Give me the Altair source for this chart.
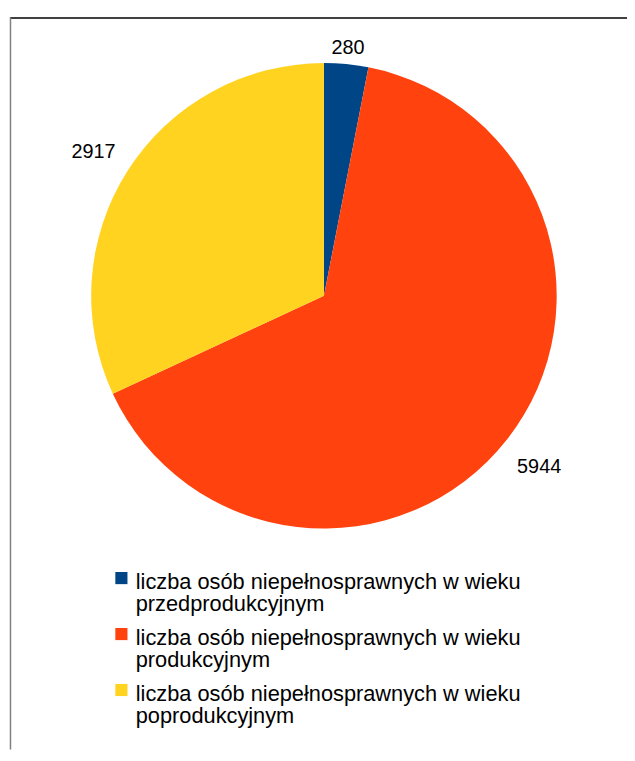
import altair as alt
import pandas as pd

prefix = "liczba osób niepełnosprawnych w wieku"
suffixes = ["przedprodukcyjnym", "produkcyjnym", "poprodukcyjnym"]
values = [280, 5944, 2917]
colors = ["#004586", "#ff420e", "#ffd320"]

cats = [f"{prefix} {s}" for s in suffixes]
df = pd.DataFrame({
    "cat": cats,
    "value": values,
    "order": list(range(len(cats))),
    "legend": [f"{prefix}\n{s}" for s in suffixes],
    "label": [str(v) for v in values],
})

CX, CY = 319, 287
FONT = "Liberation Sans"

color = alt.Color("cat:N", scale=alt.Scale(domain=cats, range=colors), legend=None)

# cumulative angles computed by Vega transforms
base = alt.Chart(df).transform_window(
    cum="sum(value)", sort=[alt.SortField("order")], frame=[None, 0]
).transform_joinaggregate(
    total="sum(value)"
).transform_calculate(
    a0="2*PI*(datum.cum - datum.value)/datum.total",
    a1="2*PI*datum.cum/datum.total",
    amid="2*PI*(datum.cum - datum.value/2)/datum.total",
    r="datum.value < 1000 ? 254 : 276",
)

pie = base.mark_arc(outerRadius=235).encode(
    theta=alt.Theta("a0:Q", scale=None),
    theta2="a1:Q",
    color=color,
    x=alt.value(CX),
    y=alt.value(CY),
)

labels = base.mark_text(font=FONT, fontSize=20, color="#000000", align="center",
                        baseline="middle", dy=3).encode(
    theta=alt.Theta("amid:Q", scale=None),
    radius=alt.Radius("r:Q", scale=None),
    text="label:N",
    x=alt.value(CX),
    y=alt.value(CY),
)

yleg = alt.Y("cat:N", sort=cats, axis=None,
             scale=alt.Scale(type="point", domain=cats, range=[583, 696], padding=0))

leg_sq = alt.Chart(df).mark_square(size=150, yOffset=-11, opacity=1).encode(
    x=alt.value(114.5), y=yleg, color=color
)
leg_txt = alt.Chart(df).mark_text(font=FONT, fontSize=22, color="#000000", align="left",
                                  baseline="alphabetic", lineBreak="\n", lineHeight=22.5).encode(
    x=alt.value(129), y=yleg, text="legend:N"
)

one = alt.Chart(pd.DataFrame({"a": [0]}))
top_line = one.mark_rule(color="#000000", strokeWidth=1.5).encode(
    x=alt.value(2), x2=alt.value(627), y=alt.value(6.5)
)
left_line = one.mark_rule(color="#808080", strokeWidth=1.5).encode(
    x=alt.value(2.5), y=alt.value(6), y2=alt.value(745)
)

chart = alt.layer(pie, labels, leg_sq, leg_txt, top_line, left_line).properties(
    width=625, height=745, padding=0,
    autosize=alt.AutoSizeParams(type="none"),
).configure_view(stroke=None)

chart.save("out.html", embed_options={"renderer": "svg", "actions": False})
